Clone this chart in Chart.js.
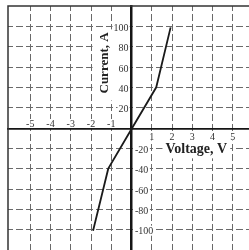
<!DOCTYPE html>
<html>
<head>
<meta charset="utf-8">
<script src="https://cdn.jsdelivr.net/npm/chart.js@4/dist/chart.umd.min.js"></script>
<style>
  html, body { margin: 0; padding: 0; background: #fff; }
  canvas { display: block; }
</style>
</head>
<body>
<canvas id="grafica" width="249" height="250"></canvas>
<script>
// Datos (curva I-V)
const voltaje = [-1.9, -1.15, 0, 1.22, 1.93];
const corriente = [-100, -39, 0, 41, 100];

// Etiquetas de los ejes
const ticksX = [-5, -4, -3, -2, -1, 1, 2, 3, 4, 5];
const ticksY = [-100, -80, -60, -40, -20, 20, 40, 60, 80, 100];
const tituloX = 'Voltage, V';
const tituloY = 'Current, A';

const FUENTE = '"Liberation Serif", "DejaVu Serif", serif';
const GRIS = '#6a6a6a';

// Caja blanca detrás de un texto
function caja(ctx, x, y, w, h) {
    ctx.fillStyle = '#fff';
    ctx.fillRect(x, y, w, h);
}

// Etiquetas y títulos dibujados sobre la rejilla, con fondo blanco
const etiquetas = {
    id: 'etiquetas',
    beforeDatasetsDraw(chart) {
        const { ctx, scales: { x, y } } = chart;
        const x0 = x.getPixelForValue(0);
        const y0 = y.getPixelForValue(0);
        ctx.save();
        ctx.font = '10px ' + FUENTE;
        ctx.textBaseline = 'alphabetic';

        // Título del eje Y (vertical, fondo blanco)
        ctx.font = 'bold 13px ' + FUENTE;
        const wy = ctx.measureText(tituloY).width;
        const cxY = x0 - 27;
        const cyY = y.getPixelForValue(65);
        caja(ctx, cxY - 12, cyY - wy / 2 - 3, x0 - 2 - (cxY - 12), wy + 10);

        // Título del eje X
        ctx.font = 'bold 14px ' + FUENTE;
        const wx = ctx.measureText(tituloX).width;
        const cxX = x.getPixelForValue(3.2);
        const cyX = y.getPixelForValue(-20);
        caja(ctx, cxX - wx / 2 - 3, y0 + 10, wx + 6, cyX + 9 - (y0 + 10));

        ctx.font = '10px ' + FUENTE;
        ctx.fillStyle = '#333';
        ticksX.forEach(v => {
            const px = x.getPixelForValue(v);
            const t = String(v);
            const w = ctx.measureText(t).width;
            ctx.textAlign = 'center';
            const by = v < 0 ? y0 - 2 : y0 + 10.5;
            caja(ctx, px - w / 2 - 1, by - 8, w + 2, 9);
            ctx.fillStyle = '#333';
            ctx.fillText(t, px, by);
        });
        ticksY.forEach(v => {
            const py = y.getPixelForValue(v);
            const t = String(v);
            const w = ctx.measureText(t).width;
            const by = py + 3.5;
            if (v > 0) {
                ctx.textAlign = 'right';
                caja(ctx, x0 - 3 - w - 1, py - 5, w + 2, 10);
                ctx.fillStyle = '#333';
                ctx.fillText(t, x0 - 3, by);
            } else {
                ctx.textAlign = 'left';
                caja(ctx, x0 + 3, py - 5, w + 2, 10);
                ctx.fillStyle = '#333';
                ctx.fillText(t, x0 + 3.5, by);
            }
        });

        // Textos de los títulos
        ctx.fillStyle = '#222';
        ctx.textAlign = 'center';
        ctx.textBaseline = 'middle';
        ctx.font = 'bold 14px ' + FUENTE;
        ctx.fillText(tituloX, cxX, cyX);

        ctx.translate(cxY, cyY);
        ctx.rotate(-Math.PI / 2);
        ctx.font = 'bold 13px ' + FUENTE;
        ctx.fillText(tituloY, 0, 0);
        ctx.restore();
    }
};

// Marco superior e izquierdo del área de la gráfica
const marco = {
    id: 'marco',
    afterDraw(chart) {
        const { ctx, chartArea: a } = chart;
        ctx.save();
        ctx.strokeStyle = '#333';
        ctx.lineWidth = 1.5;
        ctx.beginPath();
        ctx.moveTo(a.left, a.bottom);
        ctx.lineTo(a.left, a.top);
        ctx.lineTo(a.right, a.top);
        ctx.stroke();
        ctx.restore();
    }
};

const colorRejilla = (limite) => (c) =>
    (c.tick && Math.abs(c.tick.value) > limite) ? 'rgba(0,0,0,0)' : GRIS;

new Chart(document.getElementById('grafica'), {
    type: 'line',
    data: {
        datasets: [{
            label: 'I-V',
            data: voltaje.map((v, i) => ({ x: v, y: corriente[i] })),
            borderColor: '#1a1a1a',
            borderWidth: 1.8,
            pointRadius: 0,
            tension: 0,
            fill: false
        }]
    },
    options: {
        responsive: false,
        devicePixelRatio: 1,
        animation: false,
        layout: { padding: { left: 8, top: 6, right: 0, bottom: 0 } },
        plugins: {
            legend: { display: false },
            tooltip: { enabled: false }
        },
        scales: {
            x: {
                type: 'linear',
                min: -6.1,
                max: 5.8,
                position: { y: 0 },
                ticks: { display: false, stepSize: 1, includeBounds: false },
                grid: { color: colorRejilla(5.5), lineWidth: 1, drawTicks: false },
                border: { display: true, color: '#151515', width: 1.8, dash: [7, 3], dashOffset: 2 }
            },
            y: {
                type: 'linear',
                min: -119,
                max: 121,
                position: { x: 0 },
                ticks: { display: false, stepSize: 20, includeBounds: false },
                grid: { color: colorRejilla(110), lineWidth: 1, drawTicks: false },
                border: { display: true, color: '#151515', width: 2.5, dash: [7, 3], dashOffset: 2 }
            }
        }
    },
    plugins: [etiquetas, marco]
});
</script>
</body>
</html>
